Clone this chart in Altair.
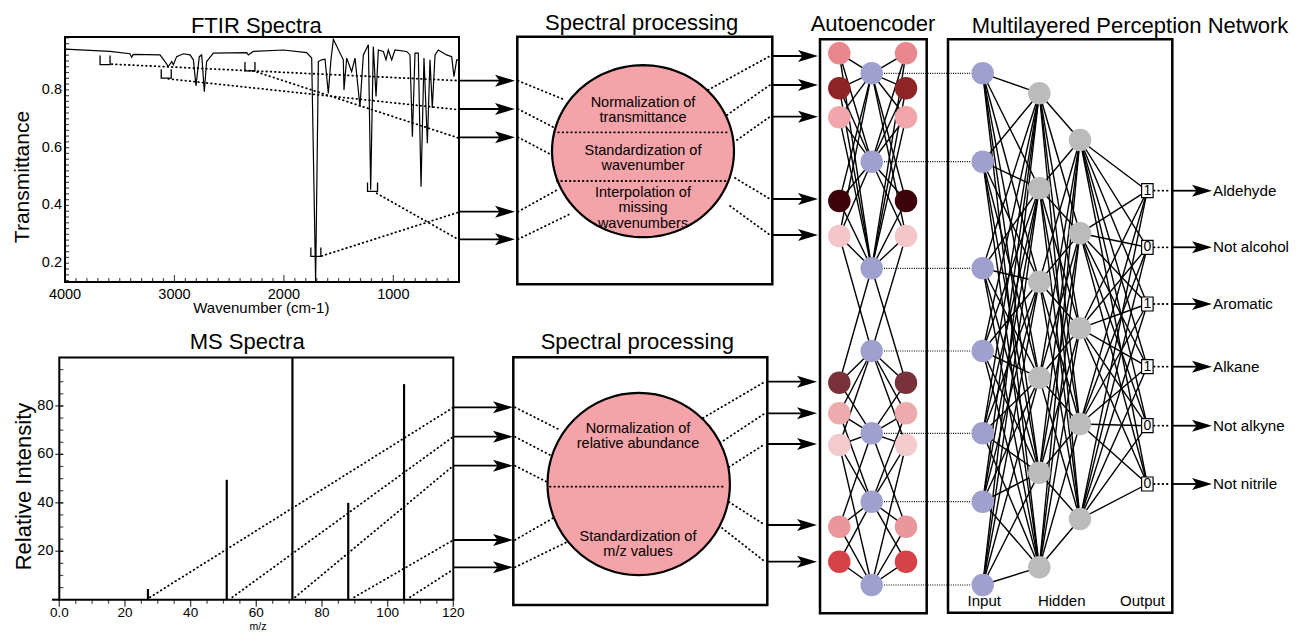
import math
import altair as alt
import pandas as pd

FONT = "Liberation Sans"
W, H = 1283, 624          # whole page minus the 8px margin
PINK = "#F4A3A8"
PURPLE = "#A0A0CE"
GREY = "#BBBBBB"

# ------------------------------------------------------------------ data
ftir_wavenumber = [4000, 3589, 3406, 3391, 3376, 3132, 3086, 3056, 3025, 3010,
                   2980, 2919, 2858, 2827, 2803, 2773, 2751, 2727, 2706, 2681,
                   2645, 2340, 2325, 2279, 2005, 1792, 1746, 1710, 1685, 1655,
                   1624, 1594, 1570, 1548, 1457, 1451, 1426, 1381, 1350, 1305,
                   1274, 1228, 1207, 1183, 1158, 1137, 1091, 1067, 1046, 1015,
                   985, 878, 848, 826, 802, 772, 747, 720, 689, 665,
                   644, 619, 589, 513, 467, 446, 421, 400]
ftir_transmittance = [0.941, 0.933, 0.925, 0.913, 0.923, 0.921, 0.898, 0.881, 0.898, 0.887,
                      0.915, 0.925, 0.921, 0.904, 0.814, 0.915, 0.921, 0.794, 0.898, 0.910,
                      0.927, 0.929, 0.921, 0.933, 0.938, 0.929, 0.910, 0.135, 0.898, 0.904,
                      0.906, 0.788, 0.904, 0.975, 0.904, 0.800, 0.910, 0.863, 0.910, 0.742,
                      0.921, 0.956, 0.454, 0.950, 0.777, 0.938, 0.933, 0.904, 0.938, 0.904,
                      0.938, 0.933, 0.921, 0.638, 0.927, 0.927, 0.465, 0.910, 0.615, 0.904,
                      0.737, 0.921, 0.938, 0.921, 0.915, 0.846, 0.904, 0.904]
ftir_marker_wn = [3634, 3075, 2310, 1190, 1708]
ftir_marker_t = [0.903, 0.856, 0.881, 0.464, 0.239]
ftir_link_wn = [3573, 3056, 2282, 1152, 1654]
ftir_link_t_start = [0.889, 0.838, 0.866, 0.442, 0.225]
ftir_link_t_end = [0.832, 0.731, 0.633, 0.281, 0.377]
ftir_x_ticks = [4000, 3000, 2000, 1000]
ftir_x_labels = ["4000", "3000", "2000", "1000"]
ftir_y_ticks = [0.2, 0.4, 0.6, 0.8]
ftir_y_labels = ["0.2", "0.4", "0.6", "0.8"]

ms_mz = [27, 51, 71, 88, 105]
ms_intensity = [4.4, 49.5, 100, 40, 89]
ms_link_mz = [27.6, 52.7, 71.8, 89.8, 106.8]
ms_link_end = [79.4, 67.3, 55.3, 24.6, 12.5]
ms_x_ticks = [0, 20, 40, 60, 80, 100, 120]
ms_x_labels = ["0.0", "20", "40", "60", "80", "100", "120"]
ms_y_ticks = [20, 40, 60, 80]
ms_y_labels = ["20", "40", "60", "80"]

panel_titles = ["FTIR Spectra", "MS Spectra", "Spectral processing",
                "Spectral processing", "Autoencoder", "Multilayered Perception Network"]
ftir_steps = ["Normalization of", "transmittance", "Standardization of", "wavenumber",
              "Interpolation of", "missing", "wavenumbers"]
ms_steps = ["Normalization of", "relative abundance", "Standardization of", "m/z values"]
layer_names = ["Input", "Hidden", "Output"]
output_labels = ["Aldehyde", "Not alcohol", "Aromatic", "Alkane", "Not alkyne", "Not nitrile"]
output_values = [1, 0, 1, 1, 0, 0]
ae_colors = ["#E8878E", "#8E2426", "#F0A6AA", "#3E020A", "#F4C6C9",
             "#7A323A", "#EEABAE", "#F3CBCD", "#EA969B", "#D64248"]
ae_links = [(0, 0), (1, 0), (2, 0), (3, 0), (4, 0),
            (0, 1), (1, 1), (2, 1), (3, 1), (4, 1),
            (0, 2), (1, 2), (2, 2), (3, 2), (4, 2),
            (5, 2), (4, 3),
            (5, 3), (6, 3), (7, 3),
            (5, 4), (6, 4), (7, 4), (8, 4),
            (6, 5), (7, 5), (8, 5), (9, 5),
            (7, 6), (8, 6), (9, 6)]

# ------------------------------------------------------------------ layout (page pixels)
ae_io_y = [53.3, 88.3, 117.3, 201, 236, 382.7, 413.3, 445, 526.7, 561.7]
latent_y = [73.3, 161.7, 268.3, 351, 433.3, 501.7, 585]
h1_y = [93.3, 188.3, 281.7, 377.7, 472.7, 567.3]
h2_y = [140, 233.3, 328.3, 424, 519]
out_y = [190.7, 247.3, 304, 366.7, 425.7, 484]
AE_L, AE_M, AE_R = 839.3, 871.7, 906
IN_X, H1_X, H2_X, OUT_X = 982.7, 1039.3, 1080, 1147.3

PX_X = alt.Scale(domain=[8, 8 + W], range=[0, W], nice=False, zero=False)
PX_Y = alt.Scale(domain=[8, 8 + H], range=[0, H], nice=False, zero=False)


def X(f):
    return alt.X(f"{f}:Q", scale=PX_X, axis=None)


def Y(f):
    return alt.Y(f"{f}:Q", scale=PX_Y, axis=None)


def texts(rows, align="center", baseline="alphabetic", angle=0):
    df = pd.DataFrame(rows, columns=["t", "x", "y", "fs"])
    mk = dict(font=FONT, align=align, baseline=baseline, color="black")
    if angle:
        mk["angle"] = angle
    return alt.Chart(df).mark_text(**mk).encode(
        x=X("x"), y=Y("y"), text="t:N", size=alt.Size("fs:Q", scale=None))


def rules(rows, **style):
    df = pd.DataFrame(rows, columns=["x", "y", "x2", "y2"])
    return alt.Chart(df).mark_rule(**style).encode(x=X("x"), y=Y("y"), x2="x2:Q", y2="y2:Q")


def boxes(rows, **style):
    df = pd.DataFrame(rows, columns=["x", "y", "x2", "y2"])
    return alt.Chart(df).mark_rect(stroke="black", **style).encode(
        x=X("x"), y=Y("y"), x2="x2:Q", y2="y2:Q")


DOT = dict(color="black", strokeWidth=1.8, strokeDash=[0.6, 3.7], strokeCap="round")
FINE_DOT = dict(color="black", strokeWidth=1.2, strokeDash=[1, 1.3])
EDGE = dict(color="black", strokeWidth=1.4)

# ------------------------------------------------------------------ diagram layers
title_rows = list(zip(panel_titles,
                      [256.3, 247.2, 641.7, 637.3, 873, 1130],
                      [32.5, 349.3, 29.5, 349.3, 30.5, 32.5],
                      [22] * 6))
title_rows += [("Wavenumber (cm-1)", 261.3, 313, 15), ("m/z", 258, 629.5, 10.5)]
title_rows += list(zip(ftir_steps, [643] * 7,
                       [106.7, 121.7, 155, 170, 197.3, 212.3, 227.7], [14.5] * 7))
title_rows += list(zip(ms_steps, [638] * 4, [433.3, 448.3, 541, 556], [14.5] * 4))
title_rows += list(zip(layer_names, [984.3, 1061.7, 1142.5], [606] * 3, [15] * 3))

rot_rows = [("Transmittance", 28.5, 177, 21), ("Relative Intensity", 31, 486.5, 22)]

frames = boxes([(517.3, 36.7, 772.3, 284.3), (513.3, 357.3, 767.3, 605),
                (820, 39.3, 926.7, 613.3), (948, 39.3, 1172.3, 612.7)],
               fillOpacity=0, strokeWidth=2.5)

ell = [(math.cos(2 * math.pi * k / 120), 0.945 * math.sin(2 * math.pi * k / 120)) for k in range(120)]
ELLIPSE = "M" + "L".join(f"{a:.4f},{b:.4f}" for a, b in ell) + "Z"
top_circle = alt.Chart(pd.DataFrame({"x": [643], "y": [151.2]})).mark_point(
    shape=ELLIPSE, size=182 ** 2, filled=True, fill=PINK, stroke="black",
    strokeWidth=2.2, opacity=1).encode(x=X("x"), y=Y("y"))
bot_circle = alt.Chart(pd.DataFrame({"x": [638.7], "y": [484]})).mark_point(
    shape="circle", size=182.4 ** 2, filled=True, fill=PINK, stroke="black",
    strokeWidth=2.2, opacity=1).encode(x=X("x"), y=Y("y"))

proc_dots = [
    (518, 80.7, 565, 100), (518, 109, 553, 127), (518, 137.3, 550, 154),
    (518, 211.7, 557, 190), (518, 239.3, 572, 213),
    (708, 90, 770, 56), (727, 115, 770, 85), (737, 140, 770, 116.7),
    (735, 178, 770, 199), (730, 206, 770, 235),
    (515, 407.3, 560, 430), (515, 436.7, 550, 455), (515, 465.7, 547, 482),
    (515, 540, 555, 517), (515, 567.3, 567, 542),
    (703, 418, 765, 381.7), (720, 443, 765, 413.3), (729, 467, 765, 444),
    (729, 502, 765, 525), (722, 528, 765, 561.7),
] + [(1154, y, 1171, y) for y in out_y]
chord_dots = [(554, 132.3, 729, 132.3), (557, 181, 727.5, 181), (550, 486.7, 726, 486.7)]
latent_dots = [(884, y, 971, y) for y in latent_y]

arrow_sets = [
    (459, 515, [80.7, 109, 137.3, 211.7, 239.3]),
    (453, 513, [407.3, 436.7, 465.7, 540, 567.3]),
    (772, 818, [56, 85, 116.7, 199, 235]),
    (767, 817, [381.7, 413.3, 444, 525, 561.7]),
    (1172, 1212, out_y),
]
shafts, heads = [], []
for x0, tip, ys in arrow_sets:
    for y in ys:
        shafts.append((x0, y, tip - 12, y))
        heads.append((tip - 10, y))
ARROW = "M1,0L-1,-0.6L-0.55,0L-1,0.6Z"
arrow_heads = alt.Chart(pd.DataFrame(heads, columns=["x", "y"])).mark_point(
    shape=ARROW, size=400, filled=True, color="black", opacity=1).encode(x=X("x"), y=Y("y"))

edge_rows = []
for i, j in ae_links:
    edge_rows.append((AE_L, ae_io_y[i], AE_M, latent_y[j]))
    edge_rows.append((AE_R, ae_io_y[i], AE_M, latent_y[j]))
for a in latent_y:
    for b in h1_y:
        edge_rows.append((IN_X, a, H1_X, b))
for a in h1_y:
    for b in h2_y:
        edge_rows.append((H1_X, a, H2_X, b))
for a in h2_y:
    for b in out_y:
        edge_rows.append((H2_X, a, OUT_X, b))

node_rows = []
for y, c in zip(ae_io_y, ae_colors):
    node_rows += [(AE_L, y, c), (AE_R, y, c)]
for y in latent_y:
    node_rows += [(AE_M, y, PURPLE), (IN_X, y, PURPLE)]
node_rows += [(H1_X, y, GREY) for y in h1_y]
node_rows += [(H2_X, y, GREY) for y in h2_y]
nodes = alt.Chart(pd.DataFrame(node_rows, columns=["x", "y", "c"])).mark_circle(
    size=22.5 ** 2, opacity=1).encode(x=X("x"), y=Y("y"), color=alt.Color("c:N", scale=None))

out_boxes = boxes([(OUT_X - 5.7, y - 7, OUT_X + 5.8, y + 7) for y in out_y],
                  fill="white", strokeWidth=1.2)
digit_rows = [(str(v), OUT_X, y, 14) for v, y in zip(output_values, out_y)]
label_rows = [(t, 1213, y, 15.2) for t, y in zip(output_labels, out_y)]

diagram = alt.layer(
    rules(edge_rows, **EDGE),
    rules(proc_dots, **DOT),
    rules(latent_dots, **FINE_DOT),
    frames,
    top_circle, bot_circle,
    rules(chord_dots, **DOT),
    rules(shafts, color="black", strokeWidth=1.8),
    arrow_heads,
    nodes,
    out_boxes,
    texts(title_rows),
    texts(rot_rows, angle=270),
    texts(digit_rows, baseline="middle"),
    texts(label_rows, align="left", baseline="middle"),
)

# ------------------------------------------------------------------ FTIR panel
FT_X = alt.Scale(domain=[4000, 400], range=[57, 451], nice=False, zero=False)
FT_Y = alt.Scale(domain=[0.135, 0.983], range=[274, 29], nice=False, zero=False)
LABEL = dict(font=FONT, fontSize=14.5, color="black")


def fx(f):
    return alt.X(f"{f}:Q", scale=FT_X, axis=None)


def fy(f):
    return alt.Y(f"{f}:Q", scale=FT_Y, axis=None)


ft_frame = alt.Chart(pd.DataFrame({"a": [4000], "b": [400], "c": [0.135], "d": [0.983]})).mark_rect(
    fillOpacity=0, stroke="black", strokeWidth=2).encode(x=fx("a"), x2="b:Q", y=fy("c"), y2="d:Q")
ft_line = alt.Chart(pd.DataFrame({"wn": ftir_wavenumber, "t": ftir_transmittance})).mark_line(
    color="black", strokeWidth=1.2).encode(x=fx("wn"), y=fy("t"))
BRACKET = "M-1,-0.9L-1,0.9L1,0.9L1,-0.9"
ft_marks = alt.Chart(pd.DataFrame({"wn": ftir_marker_wn, "t": ftir_marker_t})).mark_point(
    shape=BRACKET, size=100, filled=False, color="black", strokeWidth=1.3, opacity=1).encode(
    x=fx("wn"), y=fy("t"))
ft_links = alt.Chart(pd.DataFrame({"w0": ftir_link_wn, "t0": ftir_link_t_start,
                                   "w1": [400] * 5, "t1": ftir_link_t_end})).mark_rule(**DOT).encode(
    x=fx("w0"), x2="w1:Q", y=fy("t0"), y2="t1:Q")
ft_minor_x = [w for w in range(3900, 400, -100) if w % 1000]
ft_xt_minor = alt.Chart(pd.DataFrame({"wn": ft_minor_x})).mark_tick(
    orient="vertical", size=4, thickness=1.2, color="black").encode(x=fx("wn"), y=alt.value(272))
ft_xt_major = alt.Chart(pd.DataFrame({"wn": ftir_x_ticks[1:]})).mark_tick(
    orient="vertical", size=7, thickness=1.2, color="black").encode(x=fx("wn"), y=alt.value(270.5))
ft_minor_y = [round(0.14 + 0.02 * k, 2) for k in range(43)]
ft_yt = alt.Chart(pd.DataFrame({"t": ft_minor_y})).mark_tick(
    orient="horizontal", size=4, thickness=1.2, color="black").encode(y=fy("t"), x=alt.value(59))
ft_xlab = alt.Chart(pd.DataFrame({"v": ftir_x_ticks, "s": ftir_x_labels})).mark_text(
    align="center", baseline="alphabetic", **LABEL).encode(x=fx("v"), y=alt.value(290.5), text="s:N")
ft_ylab = alt.Chart(pd.DataFrame({"v": ftir_y_ticks, "s": ftir_y_labels})).mark_text(
    align="right", baseline="middle", **LABEL).encode(y=fy("v"), x=alt.value(54), text="s:N")
ftir = alt.layer(ft_frame, ft_line, ft_links, ft_marks, ft_xt_minor, ft_xt_major, ft_yt,
                 ft_xlab, ft_ylab)

# ------------------------------------------------------------------ MS panel
MS_X = alt.Scale(domain=[0, 120], range=[51.3, 445.3], nice=False, zero=False)
MS_Y = alt.Scale(domain=[0, 100], range=[591.7, 349.5], nice=False, zero=False)


def mx(f):
    return alt.X(f"{f}:Q", scale=MS_X, axis=None)


def my(f):
    return alt.Y(f"{f}:Q", scale=MS_Y, axis=None)


ms_frame = alt.Chart(pd.DataFrame({"a": [0], "b": [120], "c": [0], "d": [100]})).mark_rect(
    fillOpacity=0, stroke="black", strokeWidth=2).encode(x=mx("a"), x2="b:Q", y=my("c"), y2="d:Q")
ms_base = alt.Chart(pd.DataFrame({"a": [-2.2], "b": [0], "z": [0]})).mark_rule(
    color="black", strokeWidth=2).encode(x=mx("a"), x2="b:Q", y=my("z"))
ms_stems = alt.Chart(pd.DataFrame({"mz": ms_mz, "i": ms_intensity, "z": [0] * 5})).mark_rule(
    color="black", strokeWidth=2.2).encode(x=mx("mz"), y=my("z"), y2="i:Q")
ms_links = alt.Chart(pd.DataFrame({"m0": ms_link_mz, "i0": [1.0] * 5,
                                   "m1": [120] * 5, "i1": ms_link_end})).mark_rule(**DOT).encode(
    x=mx("m0"), x2="m1:Q", y=my("i0"), y2="i1:Q")
ms_xt = alt.Chart(pd.DataFrame({"mz": [m for m in range(5, 120, 5) if m % 20]})).mark_tick(
    orient="vertical", size=4, thickness=1.2, color="black").encode(x=mx("mz"), y=alt.value(593.7))
ms_xt_major = alt.Chart(pd.DataFrame({"mz": ms_x_ticks})).mark_tick(
    orient="vertical", size=7, thickness=1.4, color="black").encode(x=mx("mz"), y=alt.value(595.2))
ms_yt = alt.Chart(pd.DataFrame({"i": list(range(5, 100, 5))})).mark_tick(
    orient="horizontal", size=4, thickness=1.2, color="black").encode(y=my("i"), x=alt.value(53.3))
ms_yt_major = alt.Chart(pd.DataFrame({"i": ms_y_ticks})).mark_tick(
    orient="horizontal", size=8, thickness=1.4, color="black").encode(y=my("i"), x=alt.value(51.3))
ms_xlab = alt.Chart(pd.DataFrame({"v": ms_x_ticks, "s": ms_x_labels})).mark_text(
    align="center", baseline="alphabetic", font=FONT, fontSize=13.5, color="black").encode(
    x=mx("v"), y=alt.value(608.5), text="s:N")
ms_ylab = alt.Chart(pd.DataFrame({"v": ms_y_ticks, "s": ms_y_labels})).mark_text(
    align="right", baseline="middle", **LABEL).encode(y=my("v"), x=alt.value(45.5), text="s:N")
ms = alt.layer(ms_frame, ms_base, ms_stems, ms_links, ms_xt, ms_xt_major, ms_yt, ms_yt_major,
               ms_xlab, ms_ylab)

chart = alt.layer(diagram, ftir, ms).resolve_scale(
    x="independent", y="independent"
).properties(
    width=W, height=H, padding=0, autosize=alt.AutoSizeParams(type="none")
).configure_view(strokeWidth=0)

chart.save("out.html", embed_options={"renderer": "svg", "actions": False})
